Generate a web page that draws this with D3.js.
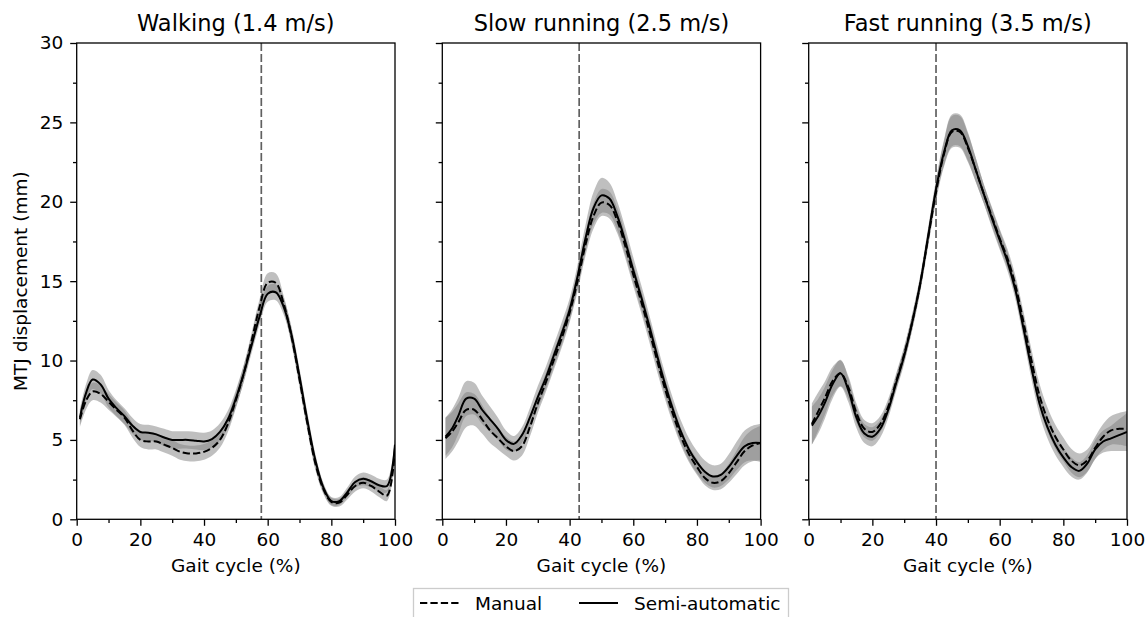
<!DOCTYPE html>
<html>
<head>
<meta charset="utf-8">
<script src="https://cdn.jsdelivr.net/npm/d3@7"></script>
<style>
  body { margin: 0; background: #fff; }
  svg { font-family: "DejaVu Sans", sans-serif; }
</style>
</head>
<body>
<div id="container"></div>
<script>
/* DATA */
const gait = [1, 3, 5, 7.5, 10, 12.5, 15, 17.5, 20, 22.5, 25, 27.5, 30, 32.5, 35, 37.5, 40, 42.5, 45, 47.5,
  50, 52.5, 55, 57.5, 60, 62.5, 65, 67.5, 70, 72.5, 75, 77.5, 80, 82.5, 85, 87.5, 90, 92.5, 95, 97.5, 100];

const titles = ["Walking (1.4 m/s)", "Slow running (2.5 m/s)", "Fast running (3.5 m/s)"];
const toeOff = [58, 43, 40];
const xTicks = [0, 20, 40, 60, 80, 100];
const yTicks = [0, 5, 10, 15, 20, 25, 30];
const legendLabels = ["Manual", "Semi-automatic"];

// walking
const walkSemi = [6.4, 8.0, 8.8, 8.5, 7.6, 7.0, 6.5, 5.9, 5.5, 5.45, 5.35, 5.15, 5.0, 5.0, 5.0, 4.95, 4.9, 5.05, 5.5, 6.3,
  7.6, 9.2, 11.0, 12.8, 14.2, 14.3, 13.4, 11.6, 9.0, 6.2, 3.7, 2.0, 1.15, 1.15, 1.7, 2.35, 2.55, 2.4, 2.15, 2.1, 4.7];
const walkManual = [6.3, 7.5, 8.05, 7.9, 7.4, 6.9, 6.4, 5.6, 5.0, 4.9, 4.9, 4.7, 4.5, 4.25, 4.15, 4.15, 4.25, 4.5, 5.0, 6.0,
  7.5, 9.2, 11.3, 13.4, 14.9, 14.9, 13.6, 11.5, 8.8, 6.0, 3.5, 1.9, 1.1, 1.05, 1.55, 2.1, 2.3, 2.1, 1.75, 1.5, 4.5];
const walkSemiSd = [0.5, 0.55, 0.6, 0.6, 0.55, 0.5, 0.5, 0.5, 0.5, 0.5, 0.5, 0.55, 0.55, 0.55, 0.55, 0.55, 0.55, 0.55, 0.55, 0.55,
  0.55, 0.55, 0.5, 0.5, 0.5, 0.5, 0.5, 0.5, 0.5, 0.5, 0.4, 0.3, 0.25, 0.25, 0.3, 0.35, 0.4, 0.4, 0.4, 0.4, 0.5];
const walkManualSd = [0.5, 0.55, 0.55, 0.55, 0.5, 0.45, 0.45, 0.45, 0.45, 0.5, 0.5, 0.5, 0.5, 0.5, 0.5, 0.5, 0.5, 0.5, 0.5, 0.5,
  0.5, 0.5, 0.5, 0.5, 0.6, 0.6, 0.5, 0.5, 0.5, 0.45, 0.4, 0.3, 0.25, 0.25, 0.3, 0.35, 0.35, 0.35, 0.35, 0.35, 0.5];

// slow running
const slowSemi = [5.2, 5.7, 6.5, 7.6, 7.6, 6.9, 6.3, 5.7, 5.0, 4.75, 5.3, 6.4, 7.7, 8.9, 10.3, 11.7, 13.2, 15.3, 17.7, 19.6,
  20.4, 20.2, 19.1, 17.5, 15.7, 14.0, 12.2, 10.3, 8.5, 6.9, 5.5, 4.4, 3.6, 3.0, 2.7, 2.8, 3.3, 4.0, 4.6, 4.8, 4.8];
const slowManual = [5.1, 5.5, 6.1, 6.9, 6.9, 6.3, 5.6, 5.1, 4.6, 4.3, 4.6, 5.8, 7.3, 8.6, 10.0, 11.4, 13.0, 15.0, 17.3, 19.1,
  19.95, 19.8, 18.8, 17.2, 15.4, 13.7, 11.9, 10.0, 8.2, 6.6, 5.2, 4.1, 3.3, 2.6, 2.3, 2.4, 2.9, 3.6, 4.3, 4.65, 4.8];
const slowSemiSd = [1.2, 1.2, 1.15, 1.1, 1.0, 0.9, 0.8, 0.7, 0.6, 0.5, 0.5, 0.6, 0.7, 0.7, 0.7, 0.7, 0.7, 0.75, 0.85, 1.0,
  1.1, 1.0, 0.9, 0.85, 0.8, 0.75, 0.7, 0.7, 0.7, 0.7, 0.7, 0.7, 0.7, 0.7, 0.7, 0.7, 0.8, 0.9, 1.0, 1.1, 1.2];
const slowManualSd = [1.3, 1.25, 1.2, 1.1, 1.0, 0.9, 0.8, 0.7, 0.6, 0.6, 0.6, 0.6, 0.6, 0.6, 0.6, 0.6, 0.6, 0.65, 0.7, 0.8,
  0.85, 0.85, 0.8, 0.75, 0.7, 0.7, 0.7, 0.7, 0.65, 0.6, 0.55, 0.5, 0.5, 0.45, 0.45, 0.5, 0.6, 0.75, 0.9, 1.0, 1.1];

// fast running
const fastSemi = [5.9, 6.5, 7.3, 8.5, 9.2, 8.1, 6.4, 5.4, 5.2, 5.7, 6.9, 8.6, 10.3, 12.4, 14.8, 17.8, 20.8, 23.1, 24.5, 24.5,
  23.5, 22.0, 20.5, 19.0, 17.6, 16.2, 14.4, 12.0, 9.5, 7.3, 5.8, 4.7, 3.9, 3.3, 3.05, 3.5, 4.4, 4.9, 5.1, 5.3, 5.5];
const fastManual = [6.0, 6.8, 7.6, 8.7, 9.2, 8.3, 6.7, 5.7, 5.5, 6.0, 7.1, 8.7, 10.4, 12.4, 14.8, 17.7, 20.6, 23.0, 24.4, 24.4,
  23.4, 22.0, 20.5, 19.1, 17.7, 16.4, 14.7, 12.4, 10.0, 7.8, 6.3, 5.2, 4.4, 3.7, 3.4, 3.7, 4.5, 5.2, 5.6, 5.7, 5.7];
const fastSemiSd = [1.2, 1.1, 1.0, 0.9, 0.85, 0.75, 0.65, 0.6, 0.6, 0.55, 0.5, 0.5, 0.5, 0.5, 0.5, 0.55, 0.6, 0.8, 1.0, 1.0,
  0.9, 0.75, 0.6, 0.6, 0.6, 0.6, 0.6, 0.65, 0.7, 0.7, 0.7, 0.65, 0.6, 0.6, 0.55, 0.55, 0.6, 0.7, 0.8, 1.0, 1.2];
const fastManualSd = [1.3, 1.2, 1.05, 0.9, 0.8, 0.7, 0.6, 0.55, 0.55, 0.5, 0.5, 0.5, 0.5, 0.5, 0.5, 0.55, 0.6, 0.8, 1.0, 1.0,
  0.9, 0.75, 0.6, 0.6, 0.6, 0.6, 0.6, 0.65, 0.7, 0.75, 0.75, 0.75, 0.75, 0.75, 0.75, 0.7, 0.7, 0.8, 0.9, 1.0, 1.1];

const panels = [
  { manual: walkManual, semi: walkSemi, manualSd: walkManualSd, semiSd: walkSemiSd },
  { manual: slowManual, semi: slowSemi, manualSd: slowManualSd, semiSd: slowSemiSd },
  { manual: fastManual, semi: fastSemi, manualSd: fastManualSd, semiSd: fastSemiSd }
];

/* CONSTANTS */
const width = 1145, height = 617;
const plotTop = 43, plotBottom = 519.3;
const panelLeft = [76.7, 442.3, 808.7];
const panelW = 318.3;
const labelSize = 18.5, titleSize = 22.5;
const dashPattern = "7.3,3.1";

const svg = d3.select("#container").append("svg")
  .attr("width", width)
  .attr("height", height);

const yScale = d3.scaleLinear().domain([0, 30]).range([plotBottom, plotTop]);

panels.forEach((p, i) => {
  const x0 = panelLeft[i];
  const xScale = d3.scaleLinear().domain([0, 100]).range([x0, x0 + panelW]);
  const g = svg.append("g");

  g.append("clipPath").attr("id", "clip" + i)
    .append("rect").attr("x", x0).attr("y", plotTop).attr("width", panelW).attr("height", plotBottom - plotTop);

  const plot = g.append("g").attr("clip-path", `url(#clip${i})`);

  // toe-off line
  plot.append("line")
    .attr("x1", xScale(toeOff[i])).attr("x2", xScale(toeOff[i]))
    .attr("y1", plotTop).attr("y2", plotBottom)
    .attr("stroke", "#606060").attr("stroke-width", 1.7)
    .attr("stroke-dasharray", "8,3");

  const area = (mean, sd) => d3.area()
    .curve(d3.curveCatmullRom.alpha(0.5))
    .x((d, j) => xScale(gait[j]))
    .y0((d, j) => yScale(mean[j] - sd[j]))
    .y1((d, j) => yScale(mean[j] + sd[j]))(gait);

  plot.append("path").attr("d", area(p.manual, p.manualSd))
    .attr("fill", "#808080").attr("fill-opacity", 0.5);
  plot.append("path").attr("d", area(p.semi, p.semiSd))
    .attr("fill", "#808080").attr("fill-opacity", 0.5);

  const line = d3.line()
    .curve(d3.curveCatmullRom.alpha(0.5))
    .x((d, j) => xScale(gait[j]))
    .y(d => yScale(d));

  plot.append("path").attr("d", line(p.manual))
    .attr("fill", "none").attr("stroke", "#000").attr("stroke-width", 2)
    .attr("stroke-dasharray", dashPattern);
  plot.append("path").attr("d", line(p.semi))
    .attr("fill", "none").attr("stroke", "#000").attr("stroke-width", 2);

  // axes
  g.append("g").attr("transform", `translate(0,${plotBottom})`)
    .call(d3.axisBottom(xScale).tickValues(xTicks).tickSize(6.5).tickSizeOuter(0).tickPadding(7));
  g.append("g").attr("transform", `translate(0,${plotBottom})`)
    .call(d3.axisBottom(xScale).tickValues([10, 30, 50, 70, 90]).tickSize(3.7).tickSizeOuter(0).tickFormat(""));

  g.append("g").attr("transform", `translate(${x0},0)`)
    .call(d3.axisLeft(yScale).tickValues(yTicks).tickSize(6.5).tickSizeOuter(0).tickPadding(7)
      .tickFormat(i === 0 ? d3.format("d") : ""));
  g.append("g").attr("transform", `translate(${x0},0)`)
    .call(d3.axisLeft(yScale).tickValues([2.5, 7.5, 12.5, 17.5, 22.5, 27.5]).tickSize(3.7).tickSizeOuter(0).tickFormat(""));

  g.selectAll(".domain").remove();
  g.selectAll(".tick line").attr("stroke", "#000").attr("stroke-width", 1.3);
  g.selectAll(".tick text").attr("font-size", labelSize).attr("fill", "#000")
    .attr("font-family", "DejaVu Sans, sans-serif");

  g.append("rect")
    .attr("x", x0).attr("y", plotTop).attr("width", panelW).attr("height", plotBottom - plotTop)
    .attr("fill", "none").attr("stroke", "#000").attr("stroke-width", 1.3);

  g.append("text")
    .attr("x", x0 + panelW / 2).attr("y", 31)
    .attr("text-anchor", "middle").attr("font-size", titleSize)
    .text(titles[i]);

  g.append("text")
    .attr("x", x0 + panelW / 2).attr("y", 572)
    .attr("text-anchor", "middle").attr("font-size", labelSize)
    .text("Gait cycle (%)");
});

svg.append("text")
  .attr("transform", `translate(27,${(plotTop + plotBottom) / 2}) rotate(-90)`)
  .attr("text-anchor", "middle").attr("font-size", labelSize)
  .text("MTJ displacement (mm)");

// legend
const legend = svg.append("g");
legend.append("rect")
  .attr("x", 413.5).attr("y", 588.5).attr("width", 375).attr("height", 40)
  .attr("fill", "#fff").attr("stroke", "#cccccc").attr("stroke-width", 1.3);

const legendItems = [
  { x: 420, dash: dashPattern, label: legendLabels[0] },
  { x: 579, dash: null, label: legendLabels[1] }
];
legendItems.forEach(d => {
  legend.append("line")
    .attr("x1", d.x).attr("x2", d.x + 39).attr("y1", 603).attr("y2", 603)
    .attr("stroke", "#000").attr("stroke-width", 2)
    .attr("stroke-dasharray", d.dash);
  legend.append("text")
    .attr("x", d.x + 55).attr("y", 610)
    .attr("font-size", labelSize)
    .text(d.label);
});
</script>
</body>
</html>
